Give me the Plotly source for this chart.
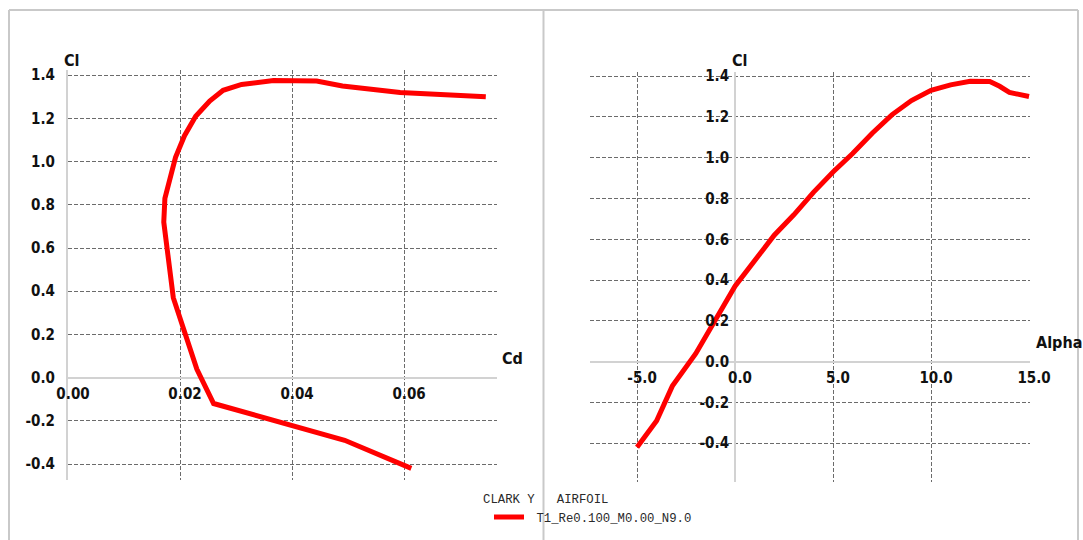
import plotly.graph_objects as go

# Polar of the CLARK Y section, Re = 100 000, Ncrit = 9
alpha = [-5.0, -4.0, -3.2, -2.0, 0.0, 1.0, 2.0, 3.0, 4.0, 5.0, 6.0, 7.0,
         8.0, 9.0, 10.0, 11.0, 12.0, 13.0, 13.5, 14.0, 15.0]
cl = [-0.42, -0.29, -0.12, 0.04, 0.37, 0.50, 0.62, 0.72, 0.83, 0.93, 1.02,
      1.12, 1.21, 1.28, 1.33, 1.357, 1.375, 1.373, 1.35, 1.32, 1.30]
cd = [0.0613, 0.0494, 0.0260, 0.0230, 0.0188, 0.0182, 0.0176, 0.0171,
      0.0173, 0.0182, 0.0192, 0.0208, 0.0228, 0.0253, 0.0277, 0.0310,
      0.0367, 0.0444, 0.0490, 0.0593, 0.0746]

series_name = "T1_Re0.100_M0.00_N9.0"
chart_title = "CLARK Y   AIRFOIL"

cd_ticks = [0.0, 0.02, 0.04, 0.06]
cd_labels = ["0.00", "0.02", "0.04", "0.06"]
cl_ticks = [-0.4, -0.2, 0.0, 0.2, 0.4, 0.6, 0.8, 1.0, 1.2, 1.4]
cl_labels = ["-0.4", "-0.2", "0.0", "0.2", "0.4", "0.6", "0.8", "1.0", "1.2", "1.4"]
alpha_ticks = [-5.0, 0.0, 5.0, 10.0, 15.0]
alpha_labels = ["-5.0", "0.0", "5.0", "10.0", "15.0"]

W, H = 1083, 540


def fx(p):
    return p / W


def fy(p):
    return 1 - p / H


left_x_dom = [fx(68), fx(497)]
left_y_dom = [fy(480), fy(70)]
right_x_dom = [fx(590), fx(1030)]
right_y_dom = [fy(482), fy(72)]

cd_range = [0.0, 0.0766]
cl_range_l = [-0.474, 1.424]
alpha_range = [-7.4, 15.05]
cl_range_r = [-0.59, 1.42]


def zero_pos(rng, dom):
    return dom[0] + (0 - rng[0]) / (rng[1] - rng[0]) * (dom[1] - dom[0])


RED = "#ff0000"
GRID = "#6b6b6b"
ZERO = "#d2d2d2"
LABEL_FAMILY = "DejaVu Sans Condensed, Liberation Sans Narrow, Liberation Sans, sans-serif"
tick_font = dict(family=LABEL_FAMILY, size=15, color="#111111", weight="bold")
mono = dict(family="Liberation Mono, Courier New, monospace", size=12.3,
            color="#2a2a2a")

fig = go.Figure()
fig.add_trace(go.Scatter(x=cd, y=cl, mode="lines", name="\u00a0" + series_name,
                         line=dict(color=RED, width=5), xaxis="x", yaxis="y",
                         showlegend=True))
fig.add_trace(go.Scatter(x=alpha, y=cl, mode="lines", name=series_name,
                         line=dict(color=RED, width=5), xaxis="x2", yaxis="y2",
                         showlegend=False))

grid_common = dict(showgrid=True, gridcolor=GRID, gridwidth=1, griddash="4px,2px",
                   tickfont=tick_font, ticks="", fixedrange=True,
                   automargin=False)

fig.update_layout(
    width=W, height=H, margin=dict(l=0, r=0, t=0, b=0, autoexpand=False),
    paper_bgcolor="white", plot_bgcolor="white",
    xaxis=dict(domain=left_x_dom, range=cd_range, tickvals=cd_ticks,
               ticktext=cd_labels, anchor="free",
               position=zero_pos(cl_range_l, left_y_dom),
               zeroline=False, showline=False,
               ticklabelshift=5, ticklabelstandoff=5, **grid_common),
    yaxis=dict(domain=left_y_dom, range=cl_range_l, tickvals=cl_ticks,
               ticktext=cl_labels, anchor="x", zeroline=True,
               zerolinecolor=ZERO, zerolinewidth=2,
               showline=True, linecolor=ZERO, linewidth=2,
               ticklabelstandoff=8, **grid_common),
    xaxis2=dict(domain=right_x_dom, range=alpha_range, tickvals=alpha_ticks,
                ticktext=alpha_labels, anchor="free",
                position=zero_pos(cl_range_r, right_y_dom),
                zeroline=True, zerolinecolor=ZERO, zerolinewidth=2,
                showline=False, ticklabelshift=5, ticklabelstandoff=5,
                **grid_common),
    yaxis2=dict(domain=right_y_dom, range=cl_range_r, tickvals=cl_ticks,
                ticktext=cl_labels, anchor="free",
                position=zero_pos(alpha_range, right_x_dom),
                zeroline=True, zerolinecolor=ZERO, zerolinewidth=2,
                showline=False, ticklabelstandoff=6, **grid_common),
    legend=dict(x=fx(489), y=fy(517), xanchor="left", yanchor="middle",
                bgcolor="rgba(0,0,0,0)", borderwidth=0, font=mono,
                itemclick=False, itemdoubleclick=False),
    showlegend=True,
)

title_font = dict(family=LABEL_FAMILY, size=16, color="#111111", weight="bold")
annotations = [
    dict(text="Cl", x=fx(62), y=fy(60), xanchor="left", yanchor="middle"),
    dict(text="Cd", x=fx(500), y=fy(358), xanchor="left", yanchor="middle"),
    dict(text="Cl", x=fx(730), y=fy(60), xanchor="left", yanchor="middle"),
    dict(text="Alpha", x=fx(1034), y=fy(342), xanchor="left", yanchor="middle"),
]
for a in annotations:
    fig.add_annotation(xref="paper", yref="paper", showarrow=False,
                       font=title_font, **a)
fig.add_annotation(xref="paper", yref="paper", showarrow=False,
                   text=chart_title.replace(" ", "\u00a0"), x=fx(481), y=fy(500),
                   xanchor="left", yanchor="middle", font=mono)

# panel frames
frame = dict(color="#c9c9c9", width=2)
for x0, x1, y0, y1 in [(9, 1078, 10, 10), (9, 9, 10, 540),
                       (543.5, 543.5, 10, 540), (1078, 1078, 10, 540)]:
    fig.add_shape(type="line", xref="paper", yref="paper",
                  x0=fx(x0), x1=fx(x1), y0=fy(y0), y1=fy(y1), line=frame,
                  layer="below")

fig.write_html("out.html")
